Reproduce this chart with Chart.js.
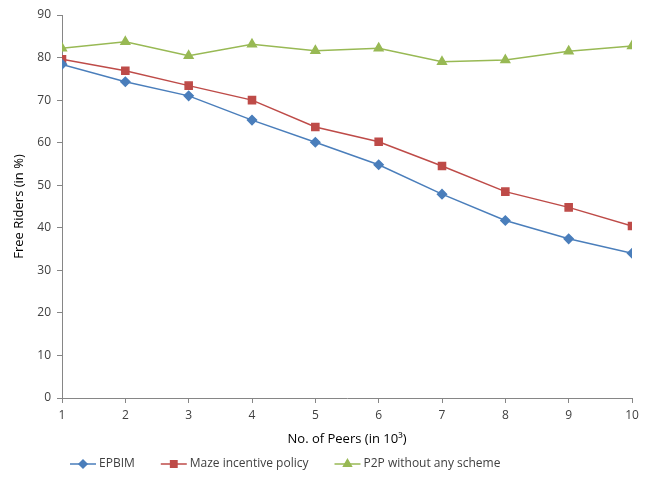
<!DOCTYPE html>
<html>
<head>
<meta charset="utf-8">
<script src="https://cdn.jsdelivr.net/npm/chart.js@4"></script>
<style>
  html, body { margin: 0; padding: 0; background: #fff; }
  #wrap { width: 648px; height: 480px; }
</style>
</head>
<body>
<div id="wrap"><canvas id="chart" width="648" height="480"></canvas></div>
<script>
// data
const peers = [1, 2, 3, 4, 5, 6, 7, 8, 9, 10];
const epbim = [78.4, 74.3, 71.0, 65.3, 60.1, 54.8, 47.9, 41.7, 37.4, 34.0];
const maze = [79.6, 76.9, 73.4, 70.0, 63.7, 60.2, 54.5, 48.5, 44.8, 40.4];
const p2p = [82.2, 83.7, 80.4, 83.1, 81.6, 82.2, 79.0, 79.4, 81.5, 82.7];
const seriesNames = ["EPBIM", "Maze incentive policy", "P2P without any scheme"];
const yTicks = [0, 10, 20, 30, 40, 50, 60, 70, 80, 90];

const FONT = "'Open Sans', 'DejaVu Sans', sans-serif";
const TEXT = "#404040";
const AXIS = "#868686";

const toPoints = (vals) => vals.map((v, i) => ({ x: peers[i], y: v }));

// legend drawn as line + marker, like the original
const lineLegend = {
  id: "lineLegend",
  afterDraw(chart) {
    const ctx = chart.ctx;
    const y = 464;
    let x = 70;
    ctx.save();
    ctx.font = "12px " + FONT;
    ctx.textBaseline = "middle";
    chart.data.datasets.forEach((ds) => {
      ctx.strokeStyle = ds.borderColor;
      ctx.lineWidth = 1.5;
      ctx.beginPath();
      ctx.moveTo(x, y);
      ctx.lineTo(x + 26, y);
      ctx.stroke();
      ctx.fillStyle = ds.pointBackgroundColor;
      ctx.strokeStyle = ds.pointBackgroundColor;
      Chart.helpers.drawPoint(ctx, {
        pointStyle: ds.pointStyle,
        radius: ds.pointRadius - 0.5,
        borderWidth: 1
      }, x + 13, y);
      ctx.fillStyle = TEXT;
      ctx.fillText(ds.label, x + 29, y);
      x += 29 + ctx.measureText(ds.label).width + 26;
    });
    ctx.restore();
  }
};

new Chart(document.getElementById("chart").getContext("2d"), {
  type: "line",
  data: {
    datasets: [
      {
        label: seriesNames[0],
        data: toPoints(epbim),
        borderColor: "#4A7EBB",
        backgroundColor: "#4A7EBB",
        pointBackgroundColor: "#4A7EBB",
        pointBorderColor: "#4A7EBB",
        pointStyle: "rectRot",
        pointRadius: 4.5,
        borderWidth: 1.5
      },
      {
        label: seriesNames[1],
        data: toPoints(maze),
        borderColor: "#BE4B48",
        backgroundColor: "#BE4B48",
        pointBackgroundColor: "#BE4B48",
        pointBorderColor: "#BE4B48",
        pointStyle: "rect",
        pointRadius: 5,
        borderWidth: 1.5
      },
      {
        label: seriesNames[2],
        data: toPoints(p2p),
        borderColor: "#98B954",
        backgroundColor: "#98B954",
        pointBackgroundColor: "#98B954",
        pointBorderColor: "#98B954",
        pointStyle: "triangle",
        pointRadius: 5,
        borderWidth: 1.5
      }
    ]
  },
  options: {
    responsive: false,
    animation: false,
    layout: { padding: { top: 15, right: 16, left: 0, bottom: 0 } },
    plugins: {
      legend: { display: false },
      tooltip: { enabled: false }
    },
    scales: {
      x: {
        type: "linear",
        min: 1,
        max: 10,
        afterBuildTicks: (s) => { s.ticks = peers.map((v) => ({ value: v })); },
        afterFit: (s) => { s.height = 82; },
        border: { color: AXIS, width: 1 },
        grid: { display: true, drawOnChartArea: false, drawTicks: true, tickLength: 5, color: AXIS },
        ticks: { color: TEXT, font: { family: FONT, size: 12 }, padding: 5, maxRotation: 0 },
        title: {
          display: true,
          text: "No. of Peers (in 10³)",
          color: "#000",
          font: { family: FONT, size: 13 },
          padding: { top: 6, bottom: 33 }
        }
      },
      y: {
        min: 0,
        max: 90,
        afterBuildTicks: (s) => { s.ticks = yTicks.map((v) => ({ value: v })); },
        afterFit: (s) => { s.width = 62; },
        border: { color: AXIS, width: 1 },
        grid: { display: true, drawOnChartArea: false, drawTicks: true, tickLength: 5, color: AXIS },
        ticks: { color: TEXT, font: { family: FONT, size: 12 }, padding: 6 },
        title: {
          display: true,
          text: "Free Riders (in %)",
          color: "#000",
          font: { family: FONT, size: 13 },
          padding: { top: 11, bottom: 0 }
        }
      }
    }
  },
  plugins: [lineLegend]
});
</script>
</body>
</html>
